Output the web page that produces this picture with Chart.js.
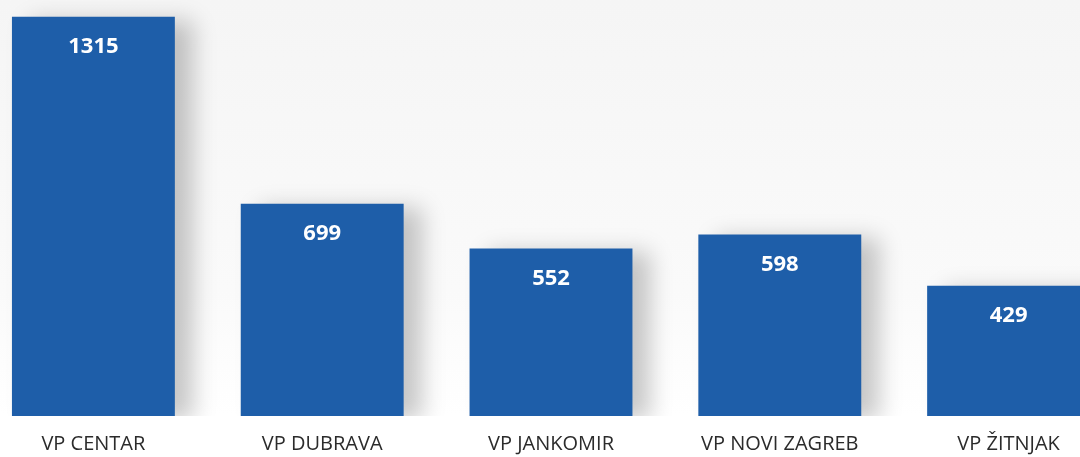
<!DOCTYPE html>
<html>
<head>
<meta charset="utf-8">
<script src="https://cdn.jsdelivr.net/npm/chart.js@4"></script>
<style>
  html, body { margin: 0; padding: 0; width: 1080px; height: 457px; overflow: hidden; background: #ffffff; }
  #wrap { position: absolute; left: -21px; top: 0; width: 1144px; height: 472px; }
</style>
</head>
<body>
<div id="wrap"><canvas id="myChart"></canvas></div>
<script>
const categories = ['VP CENTAR', 'VP DUBRAVA', 'VP JANKOMIR', 'VP NOVI ZAGREB', 'VP ŽITNJAK'];
const values = [1315, 699, 552, 598, 429];
const barColor = '#1e5ea9';

/* soft grey backdrop like the scanned original */
const backdrop = {
    id: 'backdrop',
    beforeDraw(chart) {
        const { ctx, chartArea } = chart;
        const g = ctx.createLinearGradient(0, 0, 0, chartArea.bottom);
        g.addColorStop(0, '#f5f5f5');
        g.addColorStop(0.7, '#fafafa');
        g.addColorStop(1, '#ffffff');
        ctx.save();
        ctx.fillStyle = g;
        ctx.fillRect(0, 0, chart.width, chartArea.bottom);
        ctx.restore();
    }
};

/* drop shadow behind the bars */
const barShadow = {
    id: 'barShadow',
    beforeDatasetDraw(chart) {
        const ctx = chart.ctx;
        ctx.save();
        ctx.shadowColor = 'rgba(0,0,0,0.22)';
        ctx.shadowBlur = 22;
        ctx.shadowOffsetX = 18;
        ctx.shadowOffsetY = 4;
    },
    afterDatasetDraw(chart) {
        chart.ctx.restore();
    }
};

/* white value labels inside the top of each bar */
const valueLabels = {
    id: 'valueLabels',
    afterDatasetsDraw(chart) {
        const ctx = chart.ctx;
        const meta = chart.getDatasetMeta(0);
        ctx.save();
        ctx.fillStyle = '#ffffff';
        ctx.font = 'bold 22px "Open Sans", sans-serif';
        ctx.textAlign = 'center';
        ctx.textBaseline = 'middle';
        meta.data.forEach((bar, i) => {
            ctx.fillText(values[i], bar.x, bar.y + 30);
        });
        ctx.restore();
    }
};

function renderChart() {
    const ctx = document.getElementById('myChart');
    new Chart(ctx, {
        type: 'bar',
        data: {
            labels: categories,
            datasets: [{
                data: values,
                backgroundColor: barColor,
                borderWidth: 0,
                barPercentage: 0.8,
                categoryPercentage: 0.89
            }]
        },
        options: {
            responsive: true,
            maintainAspectRatio: false,
            animation: false,
            layout: { padding: 0 },
            plugins: {
                legend: { display: false },
                tooltip: { enabled: false }
            },
            scales: {
                x: {
                    grid: { display: false, drawTicks: false },
                    border: { display: false },
                    ticks: {
                        color: '#2b2b2b',
                        padding: 16,
                        font: { family: '"Open Sans", sans-serif', size: 20 }
                    }
                },
                y: {
                    display: false,
                    beginAtZero: true,
                    max: 1370
                }
            }
        },
        plugins: [backdrop, barShadow, valueLabels]
    });
}

renderChart();
</script>
</body>
</html>
